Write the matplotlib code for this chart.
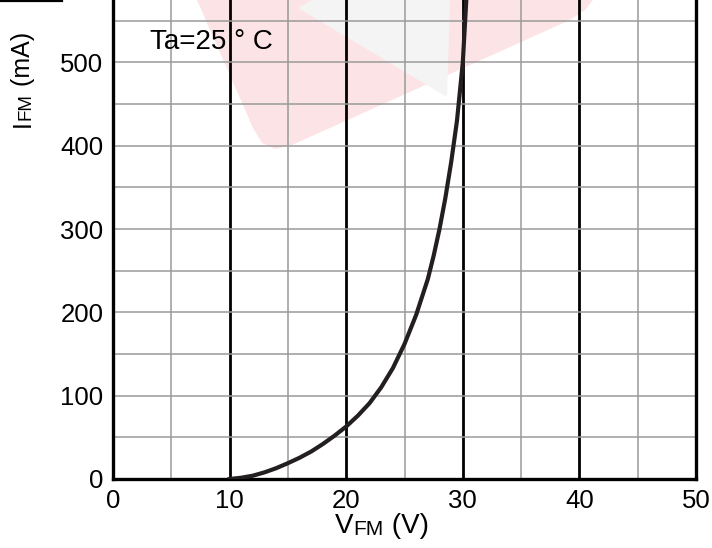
import numpy as np
import matplotlib
matplotlib.use("Agg")
import matplotlib.pyplot as plt
from matplotlib.patches import Polygon
from matplotlib.transforms import Affine2D

plt.rcParams['font.family'] = ['Liberation Sans', 'DejaVu Sans']

# forward current vs forward voltage
vfm = [10, 11, 12, 13, 14, 15, 16, 17, 18, 19, 20, 21, 22, 23, 24, 25, 26, 27,
       27.5, 28, 28.5, 29, 29.5, 30, 30.4]
ifm = [0, 1.5, 4, 8, 13, 19, 25.5, 33, 42, 52, 63, 76, 91, 110, 133, 162, 197, 240,
       268, 300, 337, 380, 430, 500, 600]

x_ticks = [0, 10, 20, 30, 40, 50]
y_ticks = [0, 100, 200, 300, 400, 500]
note = "Ta=25 ° C"

W, H = 712, 548
fig = plt.figure(figsize=(W / 100, H / 100), dpi=100)
ax = fig.add_axes([113 / W, 1 - 479 / H, 583 / W, 479 / H])

# pixel coords (origin top-left) -> figure
pix = Affine2D().scale(1 / W, -1 / H).translate(0, 1) + fig.transFigure

# faint logo watermark behind the grid
pink = Polygon([(197, 0), (253, 128), (262, 143), (275, 149), (292, 145),
                (570, 20), (585, 10), (593, 0)],
               closed=True, transform=pix, facecolor='#fce4e6', edgecolor='none', zorder=0.2)
grey = Polygon([(298, 8), (312, 0), (450, 0), (447, 97)],
               closed=True, transform=pix, facecolor='#f5f4f4', edgecolor='none', zorder=0.3)
ax.add_patch(pink)
ax.add_patch(grey)

ax.set_xlim(0, 50)
ax.set_ylim(0, 575)
ax.set_xticks(x_ticks)
ax.set_xticks(np.arange(5, 50, 10), minor=True)
ax.set_yticks(y_ticks)
ax.set_yticks(np.arange(50, 575, 100), minor=True)
ax.tick_params(which='both', length=0, labelsize=18.5, pad=7)

ax.set_axisbelow(True)
ax.grid(axis='y', which='both', color='#9a9a9a', lw=1.1, zorder=1)
ax.grid(axis='x', which='minor', color='#9a9a9a', lw=1.1, zorder=1)
ax.grid(axis='x', which='major', color='black', lw=2.0, zorder=1.5)

for s in ['left', 'bottom', 'right']:
    ax.spines[s].set_linewidth(2.4)
    ax.spines[s].set_color('black')
ax.spines['top'].set_visible(False)

ax.plot(vfm, ifm, color='#231f20', lw=3.0, solid_joinstyle='round', zorder=3)

ax.text(3.2, 525, note, fontsize=20, va='center', ha='left', zorder=4)

# x label: V + small FM + (V)
t1 = fig.text(0, 0, "V", fontsize=20, va='bottom', ha='left', transform=pix)
t1.set_position((335, 539))
t2 = ax.annotate("FM", xy=(1, 0), xycoords=t1, fontsize=15, va='bottom', ha='left')
ax.annotate(" (V)", xy=(1, 0), xycoords=t2, fontsize=20, va='bottom', ha='left')

# y label: I + small FM + (mA), rotated
u1 = fig.text(0, 0, "I", fontsize=18, rotation=90, va='bottom', ha='right', transform=pix)
u1.set_position((35, 127))
u2 = ax.annotate("FM", xy=(1, 1), xycoords=u1, fontsize=13.5, rotation=90, va='bottom', ha='right')
ax.annotate(" (mA)", xy=(1, 1), xycoords=u2, fontsize=18, rotation=90, va='bottom', ha='right')

# fragment of a box at the top-left edge
fig.add_artist(plt.Line2D([0, 62], [0.5, 0.5], color='black', lw=1.6, transform=pix))

plt.savefig("out.png", dpi=100)
